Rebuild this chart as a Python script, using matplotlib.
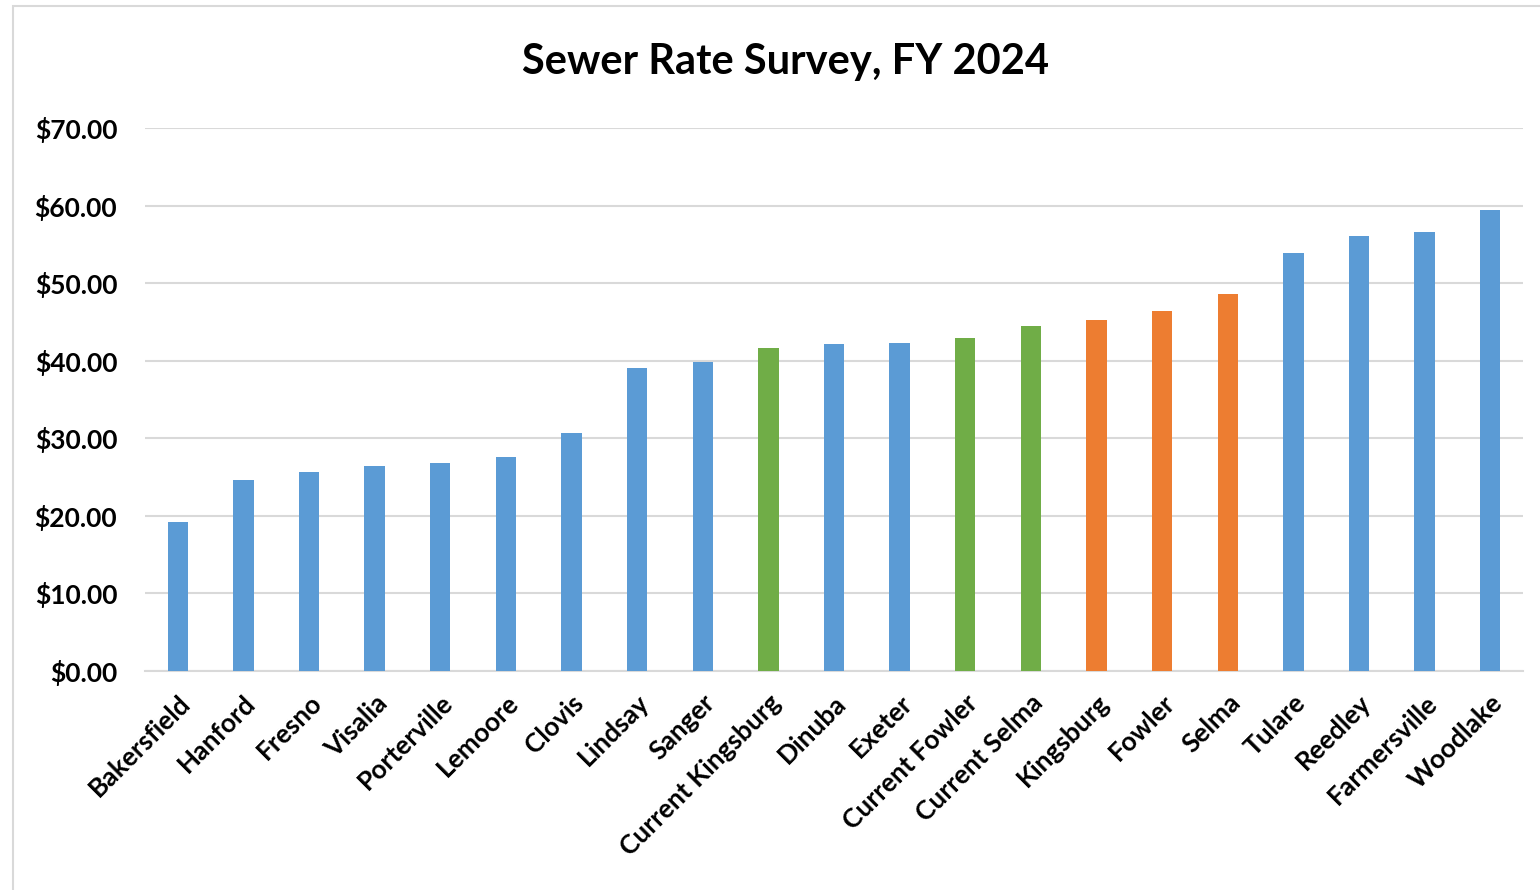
import matplotlib.pyplot as plt
from matplotlib.patches import Rectangle

plt.rcParams['font.family'] = ['Lato', 'DejaVu Sans']

cities = ['Bakersfield', 'Hanford', 'Fresno', 'Visalia', 'Porterville', 'Lemoore',
          'Clovis', 'Lindsay', 'Sanger', 'Current Kingsburg', 'Dinuba', 'Exeter',
          'Current Fowler', 'Current Selma', 'Kingsburg', 'Fowler', 'Selma',
          'Tulare', 'Reedley', 'Farmersville', 'Woodlake']
rates = [19.15, 24.60, 25.68, 26.40, 26.79, 27.60, 30.66, 39.04, 39.82, 41.62,
         42.14, 42.22, 42.91, 44.46, 45.23, 46.39, 48.60, 53.88, 56.11, 56.58, 59.46]
# which group each bar belongs to: other city / current rate / proposed rate
groups = ['o'] * 9 + ['c', 'o', 'o', 'c', 'c', 'p', 'p', 'p'] + ['o'] * 4
yticks = [0, 10, 20, 30, 40, 50, 60, 70]

colors = {'o': '#5B9BD5', 'c': '#70AD47', 'p': '#ED7D31'}

fig = plt.figure(figsize=(15.4, 8.9), dpi=100)
fig.patches.append(Rectangle((13 / 1540, -0.1), 1.2, 1.1 - 6 / 890, transform=fig.transFigure,
                             fill=False, edgecolor='#d9d9d9', linewidth=1.5))
ax = fig.add_axes([145 / 1540, 1 - 671 / 890, (1523 - 145) / 1540, (671 - 128) / 890])

x = range(len(cities))
ax.bar(x, rates, width=0.31, color=[colors[g] for g in groups], zorder=3)

ax.set_ylim(0, 70)
ax.set_xlim(-0.5, len(cities) - 0.5)
ax.set_yticks(yticks)
ax.set_yticklabels(['$%.2f' % v for v in yticks], fontsize=19, fontweight='bold')
ax.set_xticks(list(x))
ax.set_xticklabels(cities, rotation=45, ha='right', rotation_mode='anchor',
                   fontsize=19, fontweight='bold')
ax.tick_params(axis='both', length=0)
ax.tick_params(axis='y', pad=20)
ax.tick_params(axis='x', pad=14)
ax.grid(axis='y', color='#d9d9d9', linewidth=1.5, zorder=0)
for s in ['top', 'right', 'left']:
    ax.spines[s].set_visible(False)
ax.spines['bottom'].set_color('#d9d9d9')
ax.spines['bottom'].set_linewidth(1.5)

fig.text(786 / 1540, 1 - 62 / 890, 'Sewer Rate Survey, FY 2024', ha='center', va='center',
         fontsize=30, fontweight='bold')

fig.savefig('out.png')
